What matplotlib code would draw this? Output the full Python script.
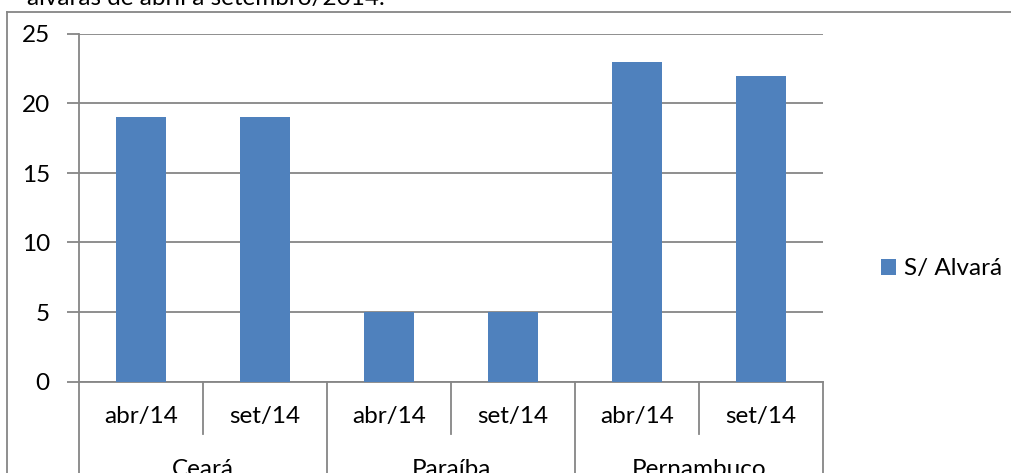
import matplotlib
matplotlib.use("Agg")
from matplotlib import pyplot as plt
from matplotlib.lines import Line2D
import matplotlib.transforms as mtransforms

# values
groups = ["Ceará", "Paraíba", "Pernambuco"]
months = ["abr/14", "set/14"]
sem_alvara = [19, 19, 5, 5, 23, 22]
serie = "S/ Alvará"
caption = "alvarás de abril a setembro/2014."

blue = "#4F81BD"
gray = "#868686"

plt.rcParams['font.family'] = ['Lato', 'DejaVu Sans']
fs = 17.5

W, H = 1011, 473
fig = plt.figure(figsize=(W / 100, H / 100), dpi=100)
ax = fig.add_axes([79 / W, 1 - 381.5 / H, 744 / W, 347.5 / H])

xs = list(range(len(sem_alvara)))
ax.bar(xs, sem_alvara, width=0.4, color=blue, label=serie, zorder=3)

ax.set_xlim(-0.5, len(sem_alvara) - 0.5)
ax.set_ylim(0, 25)
ax.set_yticks([0, 5, 10, 15, 20, 25])
ax.yaxis.grid(True, color=gray, linewidth=1.3, zorder=0)
ax.set_xticks([])
ax.tick_params(axis="y", length=9, width=1.3, color=gray, pad=12, labelsize=fs)

for s in ["top", "right"]:
    ax.spines[s].set_visible(False)
for s in ["left", "bottom"]:
    ax.spines[s].set_color(gray)
    ax.spines[s].set_linewidth(1.3)

# category axis, two levels
trans = mtransforms.blended_transform_factory(ax.transData, ax.transAxes)
for i, x in enumerate(xs):
    ax.text(x, -0.102, months[i % len(months)], transform=trans,
            ha="center", va="center", fontsize=fs)
for i in range(len(sem_alvara) + 1):
    b = i - 0.5
    low = -0.15 if i % len(months) else -0.3
    ax.add_line(Line2D([b, b], [0, low], transform=trans, color=gray,
                       linewidth=1.3, clip_on=False))
for g, name in enumerate(groups):
    mid = g * len(months) + (len(months) - 1) / 2
    ax.text(mid, -0.272, name, transform=trans, ha="center", va="baseline",
            fontsize=fs)

ax.legend(loc="center left", bbox_to_anchor=(881 / W, 1 - 269 / H),
          bbox_transform=fig.transFigure, frameon=False, fontsize=fs,
          borderpad=0, borderaxespad=0,
          handlelength=0.6, handleheight=0.6, handletextpad=0.35)

# frame of the surrounding document box and cut caption
fig.add_artist(Line2D([7 / W, 7 / W], [0, 1 - 12 / H], color=gray, linewidth=1.3))
fig.add_artist(Line2D([7 / W, 1], [1 - 12 / H, 1 - 12 / H], color=gray, linewidth=1.3))
fig.text(27 / W, 1 - 5.5 / H, caption, ha="left", va="baseline", fontsize=fs)

fig.savefig("out.png", dpi=100)
